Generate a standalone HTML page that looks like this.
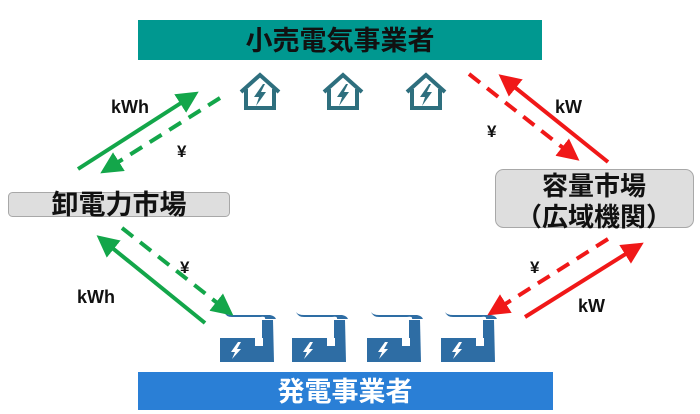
<!DOCTYPE html>
<html><head><meta charset="utf-8"><style>
html,body{margin:0;padding:0;background:#fff;}
svg{display:block;}
text{font-family:"Liberation Sans","Noto Sans CJK JP",sans-serif;font-weight:bold;}
</style></head><body>
<svg width="700" height="414" viewBox="0 0 700 414" xmlns="http://www.w3.org/2000/svg">
<defs>
<marker id="ag" viewBox="0 0 10 10" refX="8" refY="5" markerWidth="5.5" markerHeight="5.5" orient="auto"><path d="M0,0 L10,5 L0,10 z" fill="#13a64a"/></marker>
<marker id="ar" viewBox="0 0 10 10" refX="8" refY="5" markerWidth="5.5" markerHeight="5.5" orient="auto"><path d="M0,0 L10,5 L0,10 z" fill="#f01818"/></marker>
<g id="house">
<path d="M3,20 L22,3 L41,20" fill="none" stroke="#2e6f7e" stroke-width="4"/>
<path d="M8,17 L8,36 L36,36 L36,17" fill="none" stroke="#2e6f7e" stroke-width="4"/>
<path d="M25,12 L16,25 L21,25 L18,34 L28,20 L23,20 L27,12 z" fill="#2e6f7e"/>
</g>
<g id="fac">
<rect x="0" y="26" width="44" height="24" fill="#2e6da4"/>
<path d="M42,8 L53,8 L54,50 L42,50 z" fill="#2e6da4"/>
<path d="M4,0 Q6,3 12,3 L50,3 Q55,4 56,7 L45,7 Q46,4 40,5 L12,5 Q6,5 4,0 z" fill="#2e6da4"/>
<rect x="35" y="26" width="8" height="8" fill="#fff"/>
<path d="M18,30 L11,40 L15,40 L12,47 L21,37 L17,37 L21,30 z" fill="#fff"/>
</g>
</defs>
<rect x="138" y="20" width="404" height="40" fill="#009890"/>
<text x="340" y="50" font-size="27" text-anchor="middle" fill="#111">小売電気事業者</text>
<rect x="138" y="372" width="415" height="38" fill="#2a7fd6"/>
<text x="345" y="401" font-size="27" text-anchor="middle" fill="#fff">発電事業者</text>
<rect x="8.5" y="192.5" width="221" height="24" rx="4" fill="#dedede" stroke="#a8a8a8"/>
<text x="119" y="214" font-size="27" text-anchor="middle" fill="#111">卸電力市場</text>
<rect x="495.5" y="169.5" width="198" height="58" rx="8" fill="#dedede" stroke="#a8a8a8"/>
<text x="594" y="195" font-size="26" text-anchor="middle" fill="#111">容量市場</text>
<text x="594" y="226" font-size="26" text-anchor="middle" fill="#111">（広域機関）</text>
<use href="#house" x="238" y="72"/>
<use href="#house" x="321" y="72"/>
<use href="#house" x="404" y="72"/>
<use href="#fac" x="220" y="312"/>
<use href="#fac" x="292" y="312"/>
<use href="#fac" x="367" y="312"/>
<use href="#fac" x="441" y="312"/>
<line x1="78" y1="169" x2="195" y2="94" stroke="#13a64a" stroke-width="4" marker-end="url(#ag)"/>
<line x1="220" y1="98" x2="104" y2="171" stroke="#13a64a" stroke-width="4" stroke-dasharray="14,9" marker-end="url(#ag)"/>
<text x="111" y="113" font-size="18" fill="#111">kWh</text>
<text x="177" y="157" font-size="17" fill="#111">¥</text>
<line x1="205" y1="323" x2="100" y2="238" stroke="#13a64a" stroke-width="4" marker-end="url(#ag)"/>
<line x1="122" y1="228" x2="230" y2="313" stroke="#13a64a" stroke-width="4" stroke-dasharray="14,9" marker-end="url(#ag)"/>
<text x="77" y="303" font-size="18" fill="#111">kWh</text>
<text x="180" y="273" font-size="17" fill="#111">¥</text>
<line x1="469" y1="74" x2="576" y2="158" stroke="#f01818" stroke-width="4" stroke-dasharray="14,9" marker-end="url(#ar)"/>
<line x1="608" y1="162" x2="502" y2="77" stroke="#f01818" stroke-width="4" marker-end="url(#ar)"/>
<text x="555" y="113" font-size="18" fill="#111">kW</text>
<text x="487" y="137" font-size="17" fill="#111">¥</text>
<line x1="608" y1="239" x2="491" y2="313" stroke="#f01818" stroke-width="4" stroke-dasharray="14,9" marker-end="url(#ar)"/>
<line x1="525" y1="317" x2="640" y2="245" stroke="#f01818" stroke-width="4" marker-end="url(#ar)"/>
<text x="578" y="312" font-size="18" fill="#111">kW</text>
<text x="530" y="273" font-size="17" fill="#111">¥</text>
</svg>
</body></html>
